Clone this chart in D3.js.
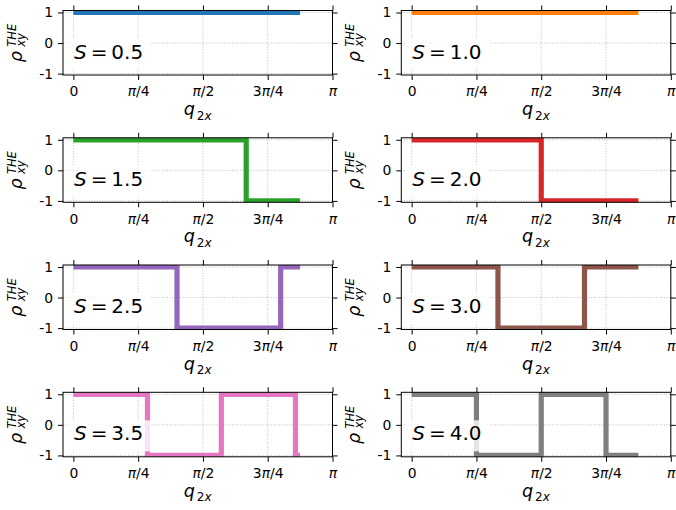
<!DOCTYPE html>
<html>
<head>
<meta charset="utf-8">
<script src="https://cdn.jsdelivr.net/npm/d3@7/dist/d3.min.js"></script>
<style>
  body { margin: 0; background: #fff; }
  svg { display: block; font-family: "DejaVu Sans", sans-serif; }
</style>
</head>
<body>
<div id="chart"></div>
<script>
// one panel per spin value
const spins = ["0.5", "1.0", "1.5", "2.0", "2.5", "3.0", "3.5", "4.0"];
const colors = ["#1f77b4", "#ff7f0e", "#2ca02c", "#d62728", "#9467bd", "#8c564b", "#e377c2", "#7f7f7f"];

// step corners of rho_xy^THE, q2x given in units of pi
const q05 = [0, 0.875];
const rho05 = [1, 1];
const q10 = [0, 0.875];
const rho10 = [1, 1];
const q15 = [0, 0.667, 0.667, 0.875];
const rho15 = [1, 1, -1, -1];
const q20 = [0, 0.5, 0.5, 0.875];
const rho20 = [1, 1, -1, -1];
const q25 = [0, 0.4, 0.4, 0.8, 0.8, 0.875];
const rho25 = [1, 1, -1, -1, 1, 1];
const q30 = [0, 0.333, 0.333, 0.667, 0.667, 0.875];
const rho30 = [1, 1, -1, -1, 1, 1];
const q35 = [0, 0.286, 0.286, 0.571, 0.571, 0.857, 0.857, 0.875];
const rho35 = [1, 1, -1, -1, 1, 1, -1, -1];
const q40 = [0, 0.25, 0.25, 0.5, 0.5, 0.75, 0.75, 0.875];
const rho40 = [1, 1, -1, -1, 1, 1, -1, -1];

const qSeries = [q05, q10, q15, q20, q25, q30, q35, q40];
const rhoSeries = [rho05, rho10, rho15, rho20, rho25, rho30, rho35, rho40];

const xTicks = [0, 0.25, 0.5, 0.75, 1];
const xTickLabels = ["0", "π/4", "π/2", "3π/4", "π"];
const yTicks = [-1, 0, 1];
const yTickLabels = ["-1", "0", "1"];

const svgWidth = 676;
const svgHeight = 510;
const colLeft = [63, 401.3];
const rowTop = [10.5, 137.8, 265, 392.3];
const width = 269.5;
const height = 64.5;

const svg = d3.select("#chart")
    .append("svg")
    .attr("width", svgWidth)
    .attr("height", svgHeight)
    .attr("viewBox", `0 0 ${svgWidth} ${svgHeight}`);

const x = d3.scaleLinear().domain([-0.04, 1]).range([0, width]);
const y = d3.scaleLinear().domain([-1.045, 1.065]).range([height, 0]);

// labels with an italic pi
function piLabel(textSel, label) {
    textSel.text(null);
    label.split(/(π)/).filter(s => s).forEach(part => {
        textSel.append("tspan")
            .attr("font-style", part === "π" ? "italic" : "normal")
            .text(part);
    });
}

function styleAxis(g) {
    g.select(".domain").remove();
    g.selectAll(".tick line").attr("stroke", "#000").attr("stroke-width", 1);
    g.selectAll(".tick text").attr("fill", "#000").attr("font-size", 13.9).attr("font-family", "DejaVu Sans");
}

function rhoLabel(sel, lx, ly) {
    const g = sel.append("g").attr("transform", `translate(${lx},${ly}) rotate(-90)`)
        .attr("font-style", "italic");
    g.append("text").attr("font-size", 17.5).attr("x", -19.5).attr("y", 0).text("ρ");
    g.append("text").attr("font-size", 11.5).attr("x", -4).attr("y", 3).text("xy");
    g.append("text").attr("font-size", 11.5).attr("x", -4).attr("y", -5.5).text("THE");
}

function qLabel(sel, lx, ly) {
    sel.append("text").attr("x", lx - 14).attr("y", ly)
        .attr("font-size", 17.5).attr("font-style", "italic").text("q");
    const sub = sel.append("text").attr("x", lx - 1).attr("y", ly + 4.5).attr("font-size", 12);
    sub.append("tspan").text("2");
    sub.append("tspan").attr("font-style", "italic").text("x");
}

spins.forEach((s, i) => {
    const col = i % 2;
    const row = Math.floor(i / 2);
    const g = svg.append("g").attr("transform", `translate(${colLeft[col]},${rowTop[row]})`);

    g.append("clipPath").attr("id", `clip${i}`)
        .append("rect").attr("width", width).attr("height", height);

    // dotted grid
    g.append("g").selectAll("line").data(xTicks).enter().append("line")
        .attr("x1", d => x(d)).attr("x2", d => x(d))
        .attr("y1", 0).attr("y2", height);
    g.append("g").selectAll("line").data(yTicks).enter().append("line")
        .attr("x1", 0).attr("x2", width)
        .attr("y1", d => y(d)).attr("y2", d => y(d));
    g.selectAll("line")
        .attr("stroke", "#b0b0b0")
        .attr("stroke-width", 0.8)
        .attr("stroke-dasharray", "1,1.6");

    const pts = qSeries[i].map((q, k) => [q, rhoSeries[i][k]]);
    g.append("path")
        .datum(pts)
        .attr("clip-path", `url(#clip${i})`)
        .attr("fill", "none")
        .attr("stroke", colors[i])
        .attr("stroke-width", 5.2)
        .attr("stroke-linejoin", "miter")
        .attr("stroke-linecap", "butt")
        .attr("d", d3.line().x(d => x(d[0])).y(d => y(d[1])));

    // S label in a translucent white box
    const x0 = x(0) + 0.7;
    const baseY = y(0) + 15.5;
    g.append("rect")
        .attr("x", x0 - 6).attr("y", baseY - 20)
        .attr("width", 83).attr("height", 31)
        .attr("fill", "#fff").attr("fill-opacity", 0.8);
    g.append("text").attr("x", x0).attr("y", baseY).attr("font-size", 20)
        .attr("font-style", "italic").text("S");
    g.append("text").attr("x", x0 + 16.6).attr("y", baseY).attr("font-size", 20).text("=");
    g.append("text").attr("x", x0 + 37.3).attr("y", baseY).attr("font-size", 20).text(s);

    g.append("g").attr("transform", `translate(0,${height})`)
        .call(d3.axisBottom(x).tickValues(xTicks).tickSize(5).tickPadding(6.5).tickSizeOuter(0)
            .tickFormat((d, k) => xTickLabels[k]))
        .call(styleAxis)
        .selectAll(".tick text").each(function(d, k) { piLabel(d3.select(this), xTickLabels[k]); });
    g.append("g")
        .call(d3.axisTop(x).tickValues(xTicks).tickSize(5).tickFormat(""))
        .call(styleAxis);
    g.append("g")
        .call(d3.axisLeft(y).tickValues(yTicks).tickSize(5).tickPadding(5).tickSizeOuter(0)
            .tickFormat((d, k) => yTickLabels[k]))
        .call(styleAxis);
    g.append("g").attr("transform", `translate(${width},0)`)
        .call(d3.axisRight(y).tickValues(yTicks).tickSize(5).tickFormat(""))
        .call(styleAxis);

    g.append("rect")
        .attr("width", width).attr("height", height)
        .attr("fill", "none").attr("stroke", "#000").attr("stroke-width", 1);

    rhoLabel(g, -41.5, height / 2);
    qLabel(g, width / 2, height + 40);
});
</script>
</body>
</html>
